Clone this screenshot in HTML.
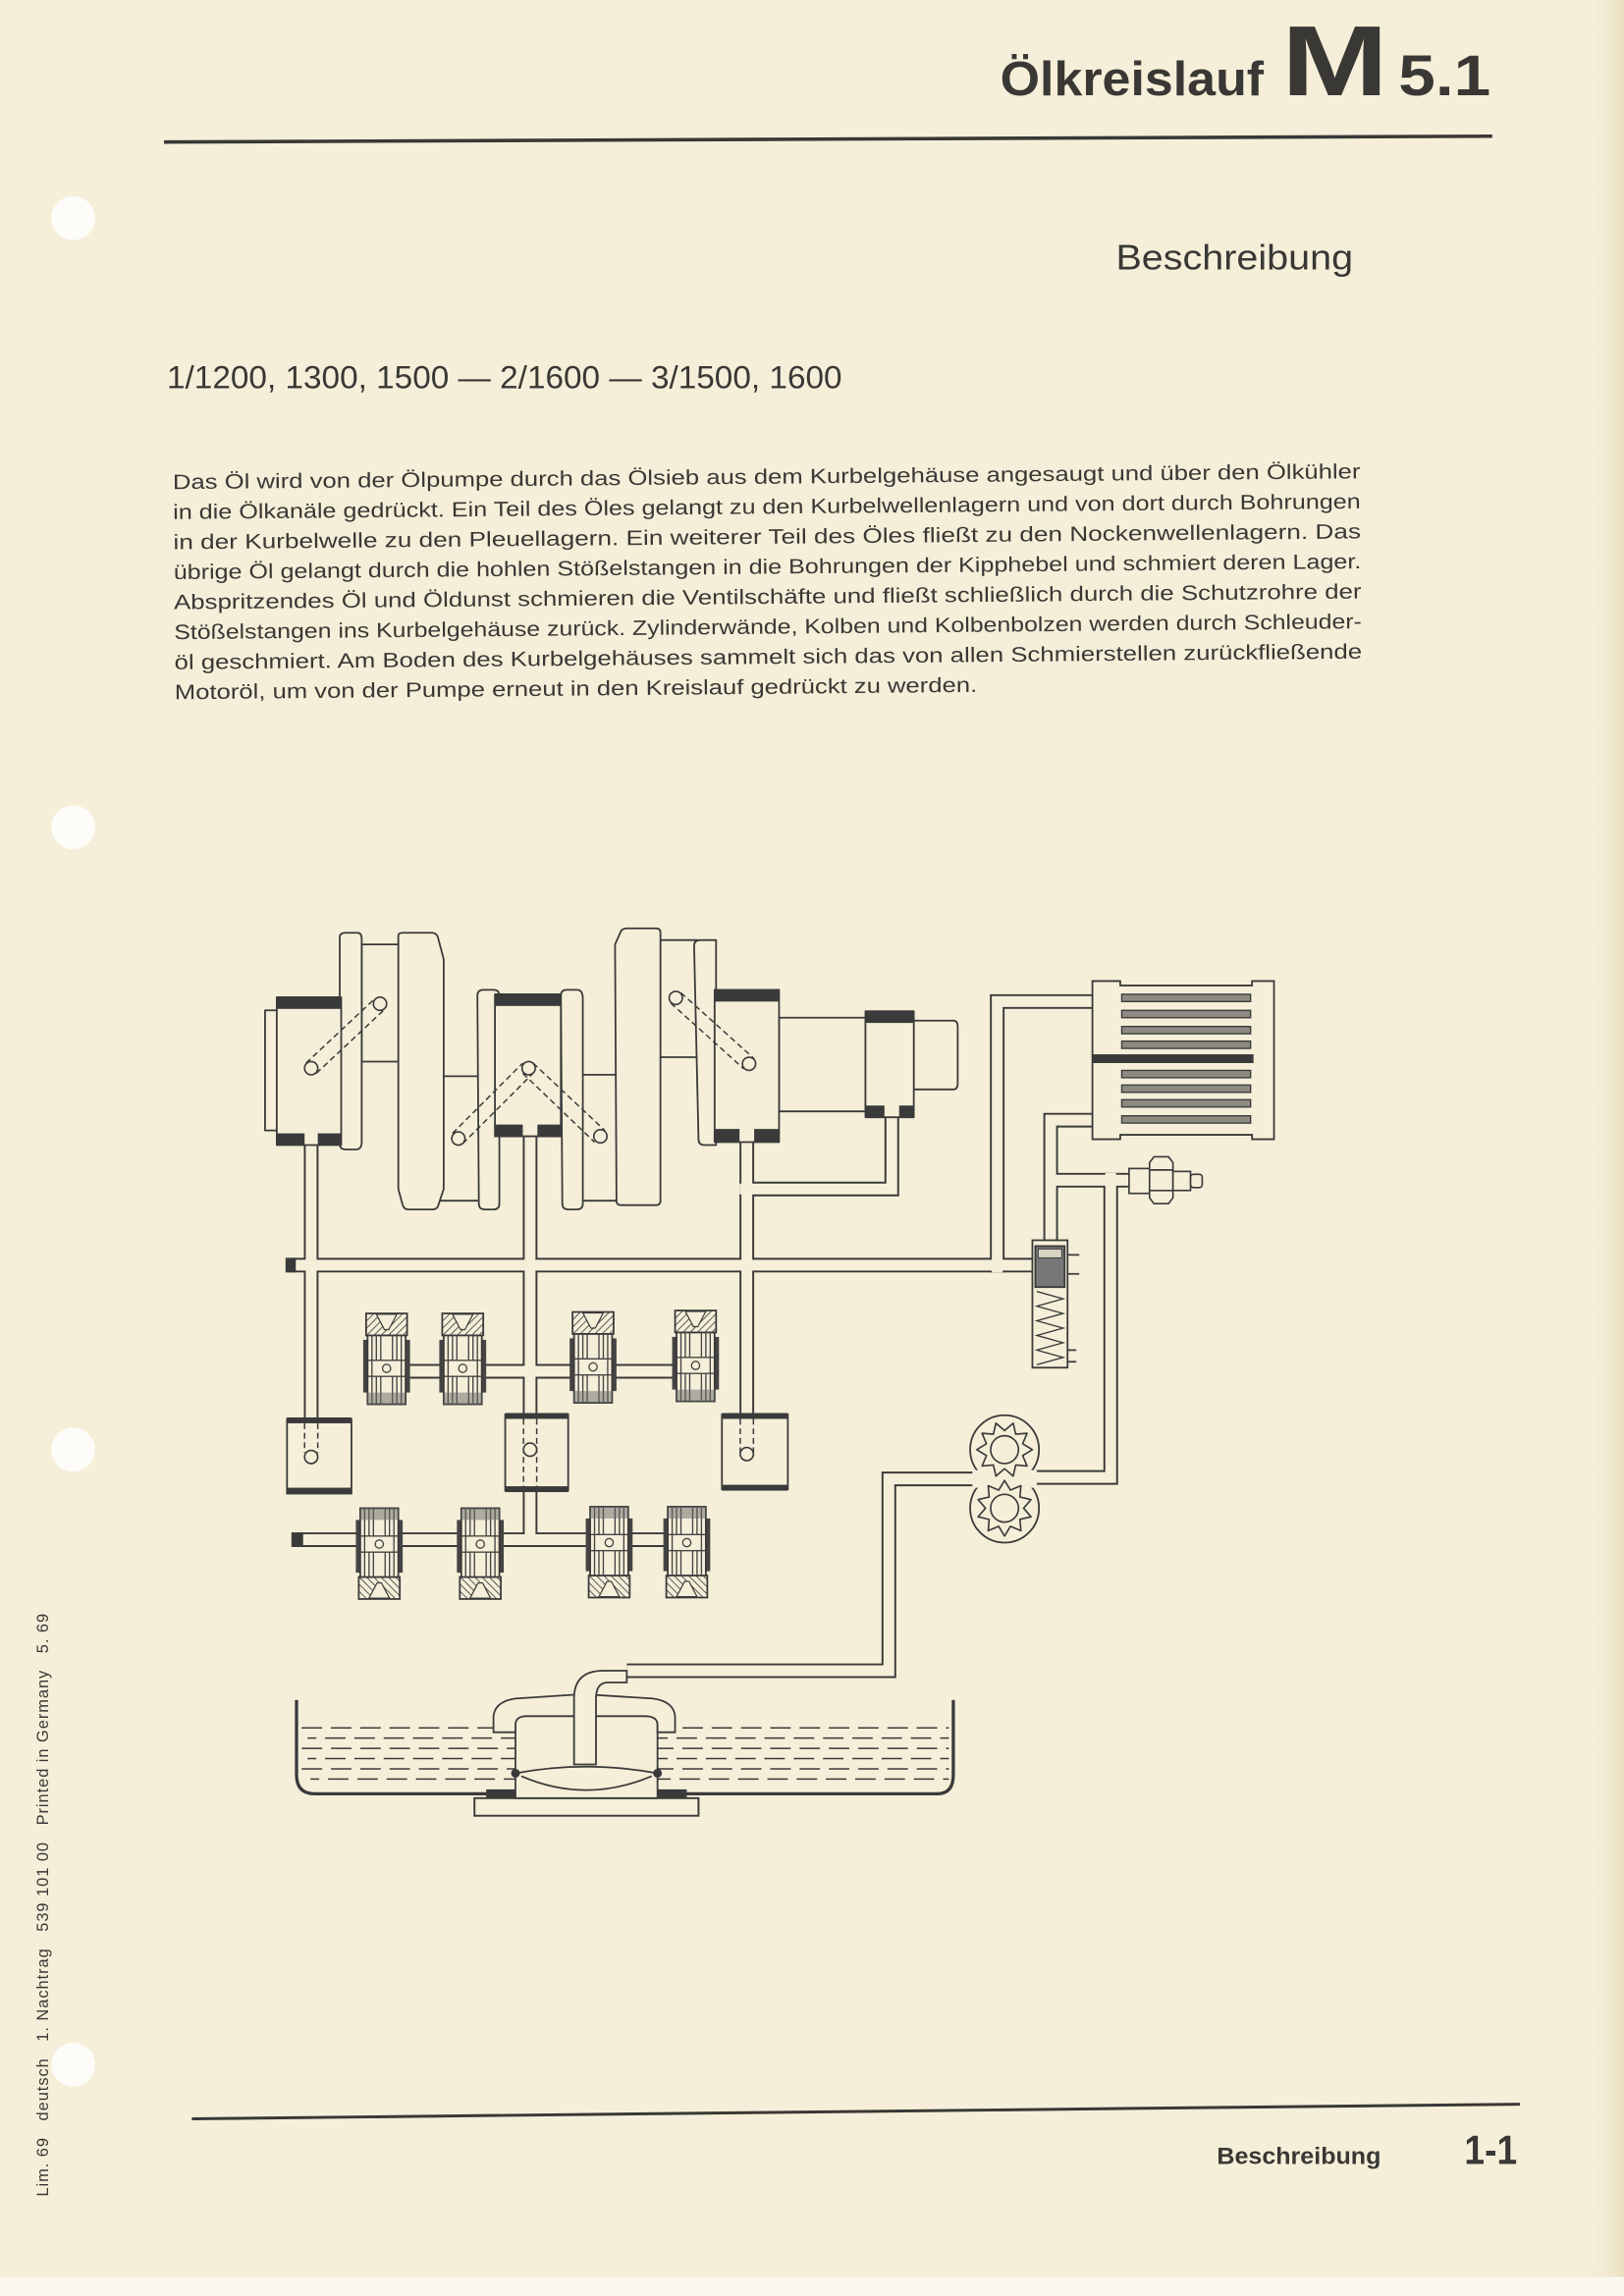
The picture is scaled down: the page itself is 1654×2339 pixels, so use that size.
<!DOCTYPE html>
<html><head><meta charset="utf-8">
<style>
html,body{margin:0;padding:0;background:#f5efd9;}
svg{display:block;}
text{font-family:"Liberation Sans",sans-serif;fill:#3a3835;}
</style></head>
<body>
<svg width="1654" height="2339" viewBox="0 0 1109 1568" preserveAspectRatio="none" xmlns="http://www.w3.org/2000/svg">
<defs>
<linearGradient id="edge" x1="0" x2="1" y1="0" y2="0">
<stop offset="0" stop-color="#f5efd9" stop-opacity="0"/><stop offset="1" stop-color="#e9dfc0"/>
</linearGradient>
<pattern id="hatch" width="3.5" height="3.5" patternUnits="userSpaceOnUse" patternTransform="rotate(45)">
<rect width="3.5" height="3.5" fill="#f5efd9"/><line x1="0" y1="0" x2="0" y2="3.5" stroke="#555" stroke-width="1.3"/>
</pattern>
<g id="lift">
<rect x="-2" y="18" width="3" height="36" fill="#444"/>
<rect x="27" y="18" width="3" height="36" fill="#444"/>
<rect x="0" y="0" width="28" height="15" fill="url(#hatch)" stroke="#3a3a3a" stroke-width="1.2"/>
<polygon points="7,0.6 21,0.6 15.5,11 12.5,11" fill="#f5efd9" stroke="#3a3a3a" stroke-width="0.8"/>
<rect x="1" y="15" width="26" height="47" fill="#f5efd9" stroke="#3a3a3a" stroke-width="1.2"/>
<g stroke="#444" stroke-width="0.9"><line x1="4" y1="15" x2="4" y2="62"/><line x1="7" y1="15" x2="7" y2="32"/><line x1="10" y1="15" x2="10" y2="32"/><line x1="18" y1="15" x2="18" y2="32"/><line x1="21" y1="15" x2="21" y2="32"/><line x1="24" y1="15" x2="24" y2="62"/>
<line x1="7" y1="43" x2="7" y2="62"/><line x1="10" y1="43" x2="10" y2="62"/><line x1="18" y1="43" x2="18" y2="62"/><line x1="21" y1="43" x2="21" y2="62"/>
<line x1="1" y1="32" x2="27" y2="32"/><line x1="1" y1="43" x2="27" y2="43"/></g>
<rect x="1" y="54" width="26" height="8" fill="#666" opacity="0.5"/>
<circle cx="14" cy="37.5" r="2.8" fill="#f5efd9" stroke="#444" stroke-width="0.9"/>
</g>
<polygon id="gear" points="19,0 12.36,4.02 15.37,11.17 7.64,10.52 5.87,18.07 0,13 -5.87,18.07 -7.64,10.52 -15.37,11.17 -12.36,4.02 -19,0 -12.36,-4.02 -15.37,-11.17 -7.64,-10.52 -5.87,-18.07 0,-13 5.87,-18.07 7.64,-10.52 15.37,-11.17 12.36,-4.02" fill="#f5efd9" stroke="#3a3a3a" stroke-width="1.1" stroke-linejoin="round"/>
</defs>

<rect width="1109" height="1568" fill="#f5efd9"/>
<rect x="1080" y="0" width="29" height="1568" fill="url(#edge)"/>
<rect x="0" y="1555" width="1109" height="13" fill="#faf7ee"/>

<!-- holes -->
<g fill="#fdfcf8">
<circle cx="50" cy="149" r="15"/><circle cx="50" cy="565" r="15"/><circle cx="50" cy="990" r="15"/><circle cx="50" cy="1410" r="15"/>
</g>

<!-- header -->
<text x="683" y="65" font-size="33" font-weight="bold" textLength="180" lengthAdjust="spacingAndGlyphs">Ölkreislauf</text>
<text x="875" y="65" font-size="68" font-weight="bold" textLength="73" lengthAdjust="spacingAndGlyphs">M</text>
<text x="955" y="65" font-size="39" font-weight="bold" textLength="63" lengthAdjust="spacingAndGlyphs">5.1</text>
<line x1="112" y1="97" x2="1019" y2="93" stroke="#3a3835" stroke-width="2.4"/>
<text x="762" y="184" font-size="24" textLength="162" lengthAdjust="spacingAndGlyphs">Beschreibung</text>
<text x="114" y="265" font-size="22" textLength="461" lengthAdjust="spacingAndGlyphs">1/1200, 1300, 1500 — 2/1600 — 3/1500, 1600</text>

<g transform="rotate(-0.52 118 334)" font-size="14.2">
<text x="118" y="334" textLength="811" lengthAdjust="spacingAndGlyphs">Das Öl wird von der Ölpumpe durch das Ölsieb aus dem Kurbelgehäuse angesaugt und über den Ölkühler</text>
<text x="118" y="354.5" textLength="811" lengthAdjust="spacingAndGlyphs">in die Ölkanäle gedrückt. Ein Teil des Öles gelangt zu den Kurbelwellenlagern und von dort durch Bohrungen</text>
<text x="118" y="375" textLength="811" lengthAdjust="spacingAndGlyphs">in der Kurbelwelle zu den Pleuellagern. Ein weiterer Teil des Öles fließt zu den Nockenwellenlagern. Das</text>
<text x="118" y="395.5" textLength="811" lengthAdjust="spacingAndGlyphs">übrige Öl gelangt durch die hohlen Stößelstangen in die Bohrungen der Kipphebel und schmiert deren Lager.</text>
<text x="118" y="416" textLength="811" lengthAdjust="spacingAndGlyphs">Abspritzendes Öl und Öldunst schmieren die Ventilschäfte und fließt schließlich durch die Schutzrohre der</text>
<text x="118" y="436.5" textLength="811" lengthAdjust="spacingAndGlyphs">Stößelstangen ins Kurbelgehäuse zurück. Zylinderwände, Kolben und Kolbenbolzen werden durch Schleuder-</text>
<text x="118" y="457" textLength="811" lengthAdjust="spacingAndGlyphs">öl geschmiert. Am Boden des Kurbelgehäuses sammelt sich das von allen Schmierstellen zurückfließende</text>
<text x="118" y="477.5" textLength="548" lengthAdjust="spacingAndGlyphs">Motoröl, um von der Pumpe erneut in den Kreislauf gedrückt zu werden.</text>
</g>

<!-- ================= DIAGRAM ================= -->
<g fill="none" stroke-linecap="butt" stroke-linejoin="miter">
<!-- pipes: dark outer -->
<g stroke="#3a3a3a" stroke-width="10">
<path d="M198 864 H708"/>
<path d="M212.5 782 V985"/>
<path d="M362 776 V1052"/>
<path d="M510 778 V985"/>
<path d="M609 762 V812 H505"/>
<path d="M250 936.5 H489"/>
<path d="M203 1051.5 H482"/>
<path d="M681 869 V684 H748"/>
<path d="M717.5 850 V765 H748"/>
<path d="M717.5 806 H773"/>
<path d="M758.5 801 V1009 H700"/>
<path d="M668 1010 H607 V1141 H428"/>
</g>
<g stroke="#f5efd9" stroke-width="7.4">
<path d="M198 864 H708"/>
<path d="M212.5 782 V985"/>
<path d="M362 776 V1052"/>
<path d="M510 778 V985"/>
<path d="M609 762 V812 H505"/>
<path d="M250 936.5 H489"/>
<path d="M203 1051.5 H482"/>
<path d="M681 869 V684 H748"/>
<path d="M717.5 850 V765 H748"/>
<path d="M717.5 806 H773"/>
<path d="M758.5 801 V1009 H700"/>
<path d="M668 1010 H607 V1141 H428"/>
</g>
</g>
<!-- gallery end caps -->
<rect x="195" y="859" width="7" height="10" fill="#3a3a3a"/>
<rect x="199" y="1046.5" width="8" height="10" fill="#3a3a3a"/>

<!-- crankshaft -->
<g fill="#f5efd9" stroke="#3a3a3a" stroke-width="1.2" stroke-linejoin="round">
<rect x="181" y="690" width="9" height="82"/>
<path d="M247 645 H273 V725 H247 Z"/>
<path d="M300 735 H329 V820 H300 Z"/>
<path d="M398 734 H422 V820 H398 Z"/>
<path d="M451 642 H476 V722 H451 Z"/>
<path d="M532 695 H591 V759 H532 Z"/>
<path d="M624 697 H651 Q654 697 654 701 V740 Q654 744 651 744 H624 Z"/>
<path d="M272 639 Q272 637 275 637 H295 Q298 637 299 640 L303 655 V812 L299 824 Q298 826 295 826 H279 Q276 826 275 823 L272 812 Z"/>
<path d="M420 645 L424 636 Q425 634 428 634 H448 Q451 634 451 637 V820 Q451 823 448 823 H424 Q421 823 421 820 Z"/>
<path d="M232 640 Q232 637 236 637 H244 Q247 637 247 641 V780 Q247 785 243 785 H236 Q232 785 232 781 Z"/>
<path d="M326 680 Q326 676 330 676 H337 Q341 676 341 680 V822 Q341 826 337 826 H331 Q327 826 327 822 Z"/>
<path d="M383 680 Q383 676 387 676 H394 Q398 676 398 682 V822 Q398 826 394 826 H388 Q384 826 384 822 Z"/>
<path d="M474 646 Q474 642 478 642 H489 V782 H481 Q477 782 477 778 Z"/>
<rect x="189" y="681" width="44" height="101"/>
<rect x="338" y="679" width="45" height="97"/>
<rect x="488" y="676" width="44" height="104"/>
<rect x="591" y="690.6" width="33" height="72.4"/>
</g>
<!-- bearing caps -->
<g fill="#3a3a3a">
<rect x="189" y="681" width="44" height="8"/>
<rect x="189" y="774" width="19" height="8"/><rect x="217" y="774" width="16" height="8"/>
<rect x="338" y="679" width="45" height="8"/>
<rect x="338" y="768" width="19" height="8"/><rect x="367" y="768" width="16" height="8"/>
<rect x="488" y="676" width="44" height="8"/>
<rect x="488" y="771" width="17" height="9"/><rect x="515" y="771" width="17" height="9"/>
<rect x="591" y="690.6" width="33" height="8"/>
<rect x="591" y="755" width="13" height="8"/><rect x="614" y="755" width="10" height="8"/>
</g>
<!-- oil drillings -->
<g fill="none" stroke="#3a3a3a" stroke-width="1" stroke-dasharray="4 2.5">
<path d="M209 726 L256 682 M216 733 L263 689"/>
<path d="M309 774 L357 726 M316 781 L364 733 M364 726 L413 772 M357 733 L406 780"/>
<path d="M458 685 L508 730 M465 678 L515 723"/>
</g>
<g fill="#f5efd9" stroke="#3a3a3a" stroke-width="1.1">
<circle cx="212.5" cy="729.5" r="4.5"/><circle cx="259.5" cy="685.5" r="4.5"/>
<circle cx="313" cy="777.5" r="4.5"/><circle cx="361" cy="729.5" r="4.5"/><circle cx="410" cy="776" r="4.5"/>
<circle cx="461.5" cy="681.5" r="4.5"/><circle cx="511.5" cy="726.5" r="4.5"/>
</g>

<!-- lifters -->
<use href="#lift" x="250" y="897"/>
<use href="#lift" x="302" y="897"/>
<use href="#lift" x="391" y="896"/>
<use href="#lift" x="461" y="895"/>
<use href="#lift" transform="translate(245 1092) scale(1 -1)"/>
<use href="#lift" transform="translate(314 1092) scale(1 -1)"/>
<use href="#lift" transform="translate(402 1091) scale(1 -1)"/>
<use href="#lift" transform="translate(455 1091) scale(1 -1)"/>

<!-- tappet boxes (rocker) -->
<g fill="#f5efd9" stroke="#3a3a3a" stroke-width="1.2">
<rect x="196" y="969" width="44" height="51"/>
<rect x="345" y="966" width="43" height="52"/>
<rect x="493" y="966" width="45" height="51"/>
</g>
<g fill="#3a3a3a">
<rect x="196" y="968" width="44" height="4"/><rect x="196" y="1016" width="44" height="4"/>
<rect x="345" y="965" width="43" height="4"/><rect x="345" y="1015" width="43" height="4"/>
<rect x="493" y="965" width="45" height="4"/><rect x="493" y="1014" width="45" height="4"/>
</g>
<g stroke="#3a3a3a" stroke-width="1" stroke-dasharray="4 2.5">
<path d="M208 972 V992 M217 972 V992"/>
<path d="M357.5 969 V1015 M366.5 969 V1015"/>
<path d="M505.5 969 V992 M514.5 969 V992"/>
</g>
<g fill="#f5efd9" stroke="#3a3a3a" stroke-width="1.1">
<circle cx="212.5" cy="995" r="4.5"/><circle cx="362" cy="990" r="4.5"/><circle cx="510" cy="993" r="4.5"/>
</g>

<!-- oil cooler -->
<g fill="#f5efd9" stroke="#3a3a3a" stroke-width="1.2">
<path d="M746 670 H765 V673 H855 V670 H870 V778 H855 V775 H765 V778 H746 Z"/>
</g>
<g fill="#8d8a82" stroke="#3a3a3a" stroke-width="0.9">
<rect x="766" y="679" width="88" height="5"/><rect x="766" y="690" width="88" height="5"/><rect x="766" y="701" width="88" height="5"/><rect x="766" y="711" width="88" height="5"/>
<rect x="766" y="731" width="88" height="5"/><rect x="766" y="741" width="88" height="5"/><rect x="766" y="751" width="88" height="5"/><rect x="766" y="762" width="88" height="5"/>
</g>
<rect x="746" y="720" width="110" height="6" fill="#3a3a3a"/>

<!-- pressure switch -->
<g fill="#f5efd9" stroke="#3a3a3a" stroke-width="1.1">
<rect x="771" y="798" width="15" height="17"/>
<path d="M788 790 H798 L801 794 V818 L798 822 H788 L785 818 V794 Z"/>
<line x1="785" y1="799" x2="801" y2="799"/><line x1="785" y1="813" x2="801" y2="813"/>
<rect x="801" y="800" width="12" height="13"/>
<rect x="813" y="802" width="8" height="9" rx="2"/>
</g>

<!-- relief valve -->
<g stroke="#3a3a3a" stroke-width="1.2">
<rect x="705" y="847" width="24" height="87" fill="#f5efd9"/>
<rect x="707" y="851" width="20" height="28" fill="#777"/>
<rect x="709" y="853" width="16" height="6" fill="#d8d3c2" stroke-width="0.6"/>
<path d="M708 882 L726 887 L708 892 L726 897 L708 902 L726 907 L708 912 L726 917 L708 922 L726 927 L708 932" fill="none" stroke-width="0.9"/>
<path d="M729 857 H737 M729 870 H737 M729 922 H735 M729 930 H735" fill="none"/>
</g>

<!-- oil pump -->
<g fill="#f5efd9" stroke="#3a3a3a" stroke-width="1.2">
<circle cx="686" cy="990" r="23.5"/><circle cx="686" cy="1030" r="23.5"/>
</g>
<rect x="664" y="1004" width="44" height="12" fill="#f5efd9"/>
<use href="#gear" transform="translate(686 990)"/>
<use href="#gear" transform="translate(686 1030) rotate(18)"/>
<g fill="#f5efd9" stroke="#3a3a3a" stroke-width="1.1">
<circle cx="686" cy="990" r="9.5"/><circle cx="686" cy="1030" r="9.5"/>
</g>

<!-- sump -->
<g stroke="#3a3a3a" stroke-width="1" stroke-dasharray="14 6">
<line x1="206" y1="1180" x2="648" y2="1180"/>
<line x1="210" y1="1187" x2="648" y2="1187" stroke-dashoffset="8"/>
<line x1="206" y1="1194" x2="648" y2="1194"/>
<line x1="210" y1="1201" x2="648" y2="1201" stroke-dashoffset="8"/>
<line x1="206" y1="1208" x2="648" y2="1208"/>
<line x1="212" y1="1215" x2="648" y2="1215" stroke-dashoffset="8"/>
</g>
<path d="M202.5 1161 V1212 Q202.5 1225 215 1225 H640 Q651 1225 651 1212 V1161" fill="none" stroke="#3a3a3a" stroke-width="2.2"/>
<rect x="324" y="1228" width="153" height="12" fill="#f5efd9" stroke="#3a3a3a" stroke-width="1.3"/>
<rect x="332" y="1222" width="137" height="6" fill="#3a3a3a"/>
<g fill="#f5efd9" stroke="#3a3a3a" stroke-width="1.2">
<rect x="352" y="1172" width="97" height="56"/>
<path d="M352 1211 Q400 1202 449 1211"/><path d="M356 1213 Q400 1232 445 1213"/>
<path d="M337 1183 V1172 Q338 1162 352 1160 L398 1157 L446 1160 Q460 1162 461 1172 V1183 H449 V1178 Q449 1172 440 1172 H360 Q352 1172 352 1178 V1183 Z"/>
<path d="M392 1205 V1160 Q392 1141 412 1141 H428 V1149 H415 Q407 1149 407 1160 V1205 Z"/>
</g>
<g fill="#3a3a3a"><circle cx="352" cy="1211" r="3"/><circle cx="449" cy="1211" r="3"/></g>

<!-- footer -->
<line x1="131" y1="1447" x2="1038" y2="1437" stroke="#3a3835" stroke-width="2"/>
<text x="831" y="1478" font-size="16" font-weight="bold" textLength="112" lengthAdjust="spacingAndGlyphs">Beschreibung</text>
<text x="1000" y="1478" font-size="28" font-weight="bold" textLength="36" lengthAdjust="spacingAndGlyphs">1-1</text>
<text transform="translate(33 1500) rotate(-90)" font-size="11" fill="#5a5855" textLength="398" lengthAdjust="spacing" xml:space="preserve">Lim. 69   deutsch   1. Nachtrag   539 101 00   Printed in Germany   5. 69</text>
</svg>
</body></html>
